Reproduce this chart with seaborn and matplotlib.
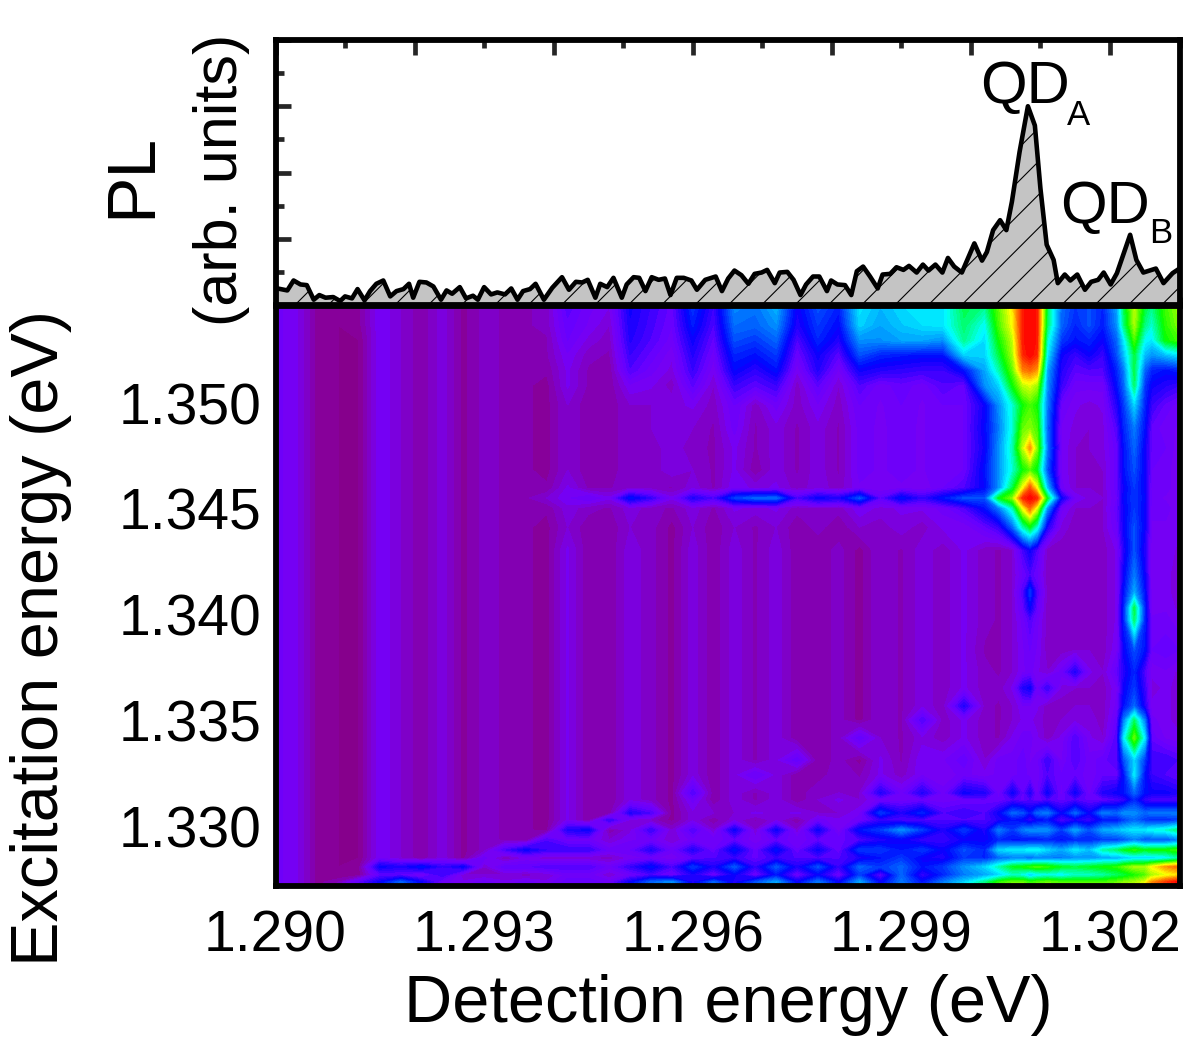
import matplotlib
matplotlib.use("Agg")
import matplotlib.pyplot as plt
from matplotlib.colors import LinearSegmentedColormap
from matplotlib.ticker import MultipleLocator, FormatStrFormatter
import seaborn as sns
import numpy as np

# PL spectrum
pl_energy = [1.28998, 1.29017, 1.29026, 1.29036, 1.29045, 1.29055, 1.29063, 1.29072, 1.29083, 1.29093,
             1.29100, 1.29110, 1.29118, 1.29128, 1.29136, 1.29145, 1.29155, 1.29165, 1.29174, 1.29184,
             1.29192, 1.29198, 1.29207, 1.29217, 1.29227, 1.29238, 1.29246, 1.29254, 1.29265, 1.29274,
             1.29284, 1.29291, 1.29300, 1.29310, 1.29319, 1.29330, 1.29339, 1.29348, 1.29356, 1.29366,
             1.29374, 1.29386, 1.29398, 1.29412, 1.29422, 1.29432, 1.29441, 1.29449, 1.29460, 1.29467,
             1.29477, 1.29486, 1.29498, 1.29505, 1.29515, 1.29523, 1.29532, 1.29541, 1.29551, 1.29560,
             1.29568, 1.29577, 1.29587, 1.29598, 1.29606, 1.29618, 1.29633, 1.29642, 1.29651, 1.29660,
             1.29670, 1.29680, 1.29689, 1.29699, 1.29707, 1.29718, 1.29725, 1.29736, 1.29745, 1.29755,
             1.29763, 1.29773, 1.29782, 1.29793, 1.29799, 1.29808, 1.29819, 1.29828, 1.29836, 1.29845,
             1.29855, 1.29866, 1.29873, 1.29884, 1.29893, 1.29903, 1.29911, 1.29922, 1.29931, 1.29939,
             1.29949, 1.29959, 1.29967, 1.29976, 1.29987, 1.30005, 1.30016, 1.30023, 1.30032, 1.30042,
             1.30051, 1.30059, 1.30070, 1.30082, 1.30092, 1.30100, 1.30109, 1.30119, 1.30125, 1.30135,
             1.30143, 1.30153, 1.30164, 1.30173, 1.30183, 1.30191, 1.30201, 1.30210, 1.30229, 1.30238,
             1.30248, 1.30266, 1.30277, 1.30290, 1.30300]
pl_counts = [.26, .22, .37, .31, .30, .08, .15, .11, .12, .06,
             .13, .10, .24, .07, .21, .32, .37, .13, .21, .24,
             .32, .11, .35, .34, .28, .08, .22, .17, .27, .10,
             .14, .08, .27, .16, .19, .16, .25, .08, .21, .24,
             .32, .08, .26, .42, .23, .35, .34, .38, .11, .32,
             .27, .41, .11, .31, .42, .41, .21, .42, .38, .40,
             .15, .41, .41, .37, .23, .38, .43, .21, .40, .52,
             .45, .32, .47, .49, .53, .33, .49, .50, .38, .15,
             .31, .43, .43, .21, .37, .31, .30, .15, .51, .58,
             .43, .25, .46, .47, .57, .53, .59, .49, .61, .52,
             .61, .49, .71, .58, .49, .93, .67, .80, 1.13, 1.28,
             1.13, 1.56, 2.31, 3.00, 2.71, 1.76, .91, .68, .33, .46,
             .37, .46, .23, .35, .38, .49, .31, .48, 1.06, .68,
             .49, .55, .33, .48, .55]

# PLE map, intensity on a 0-100 scale
detection = [1.2900, 1.2903, 1.2906, 1.2909, 1.2912, 1.2915, 1.2918, 1.2921, 1.2924, 1.2927,
             1.2930, 1.2933, 1.2936, 1.2939, 1.2942, 1.2945, 1.2948, 1.2951, 1.2954, 1.2957,
             1.2960, 1.2963, 1.2966, 1.2969, 1.2972, 1.2975, 1.2978, 1.2981, 1.2984, 1.2987,
             1.2990, 1.2993, 1.2996, 1.2999, 1.3002, 1.3004, 1.3006, 1.30075, 1.30085, 1.30095,
             1.3011, 1.3013, 1.3015, 1.3017, 1.3019, 1.3021, 1.3022, 1.30235, 1.3025, 1.3026,
             1.3028, 1.3030]
excitation = [1.3550, 1.35396, 1.35325, 1.35255, 1.35184, 1.35113, 1.35019, 1.34910, 1.34816, 1.34712,
              1.34627, 1.34580, 1.34533, 1.34443, 1.34335, 1.34217, 1.34137, 1.34061, 1.34005, 1.33863,
              1.33759, 1.33684, 1.33599, 1.33533, 1.33448, 1.33344, 1.33274, 1.33189, 1.33156, 1.33094,
              1.33061, 1.33014, 1.32967, 1.32920, 1.32882, 1.32840, 1.32802, 1.32769, 1.32740]
intensity = [
    [14,12,6,5,6,13,10,7,11,6,9,8,8,9, 18,14,12,24,20,16,30,20,38,36,42,24,33,28,46,42,45,47,46,58, 55,68,80,98,100,98,58,35,30,32,28,40,58,74,60,55,66,72],
    [14,12,6,5,6,13,10,7,11,6,9,8,8,9, 16,13,10,23,19,15,27,18,35,34,38,22,30,25,44,40,43,45,46,56, 48,66,78,98,100,98,56,34,28,32,27,38,55,72,55,50,64,70],
    [14,12,6,5,5,13,10,7,11,6,9,8,7,8, 15,11,9,22,18,14,24,16,32,30,34,18,28,22,38,38,40,40,38,54, 45,62,74,98,100,98,50,30,26,28,24,34,46,66,48,46,62,66],
    [14,12,6,5,5,13,10,7,11,6,9,8,7,8, 13,9,8,20,16,12,22,14,28,26,30,15,24,17,32,28,27,26,26,44, 44,58,72,96,100,96,46,24,20,24,20,32,42,58,42,38,42,46],
    [14,12,6,5,5,13,10,7,11,6,9,8,7,7, 12,8,7,18,14,11,20,12,25,21,26,12,22,13,24,22,21,20,20,26, 40,52,68,88,90,86,40,22,17,18,18,28,36,58,34,28,26,28],
    [14,12,6,5,5,13,10,7,11,6,9,8,7,6, 12,8,7,13,12,9,17,10,20,17,20,9,17,10,18,14,16,14,18,16, 38,44,62,74,76,72,38,20,14,14,14,26,34,56,30,24,22,20],
    [14,12,6,5,5,13,10,7,11,6,9,8,7,6, 10,7,7,10,10,11,12,9,15,9,14,9,13,9,15,13,15,13,15,15, 24,38,50,62,66,62,36,15,12,11,12,22,30,44,28,20,16,14],
    [14,12,6,5,5,13,10,7,11,6,9,8,7,6, 10,7,7,10,10,11,10,8,14,8,11,8,11,8,14,13,14,13,15,15, 25,36,50,68,70,66,34,13,11,10,11,18,28,36,26,16,14,13],
    [14,12,6,5,5,13,10,7,11,6,9,8,7,6, 10,7,7,10,9,11,9,8,12,8,11,8,11,8,14,13,14,13,15,15, 24,38,52,74,86,70,36,13,10,10,11,16,26,34,24,16,15,12],
    [14,12,6,5,5,13,10,7,11,6,9,8,7,6, 10,7,7,10,9,11,10,8,12,7,11,8,11,8,14,13,14,13,15,15, 26,38,50,62,66,60,32,13,10,10,10,16,26,32,24,15,14,12],
    [14,12,6,5,5,13,10,7,11,6,9,8,7,7, 12,8,8,10,9,8,11,8,13,11,12,9,11,9,13,12,13,12,15,18, 25,38,58,78,92,78,42,14,10,10,10,16,24,30,24,14,14,12],
    [14,12,6,5,5,13,10,7,11,6,9,8,8,10, 13,15,12,26,20,12,22,18,30,34,34,18,24,22,32,16,26,20,26,32, 32,60,70,96,100,96,60,24,13,11,10,15,25,30,25,14,13,12],
    [14,12,6,5,5,13,10,7,11,6,9,8,7,7, 11,9,8,11,9,8,11,8,12,11,12,9,10,9,13,11,12,12,14,18, 26,36,52,78,90,76,38,14,10,10,10,16,24,30,24,14,14,12],
    [14,12,6,5,5,13,10,7,11,6,9,8,7,6, 10,7,7,10,9,6,10,7,10,8,10,7,9,7,10,9,11,9,12,12, 16,20,34,52,60,50,22,11,9,9,10,15,24,32,24,13,13,12],
    [14,12,6,5,5,13,10,7,11,6,9,8,7,6, 12,7,7,11,9,6,11,7,11,8,11,7,7,9,6,10,8,11,9,12, 9,8,10,19,24,18,9,9,10,10,9,12,22,32,22,12,13,11],
    [14,12,6,5,5,13,10,7,11,6,9,8,7,6, 12,7,7,11,9,6,11,7,11,8,11,7,7,9,6,10,8,11,9,12, 9,8,10,15,18,15,9,9,10,10,9,12,24,36,24,12,12,11],
    [14,12,6,5,5,13,10,7,11,6,9,8,7,6, 12,7,7,11,9,6,11,7,11,8,11,7,7,9,6,10,8,11,9,12, 9,8,10,18,30,18,9,9,10,10,9,12,26,40,26,12,12,11],
    [14,12,6,5,5,13,10,7,11,6,9,8,7,6, 12,7,7,11,9,6,11,7,11,8,11,7,7,9,6,10,8,11,9,12, 9,8,10,16,24,16,9,9,10,10,9,12,28,58,28,12,13,11],
    [14,12,6,5,5,13,10,7,11,6,9,8,7,6, 12,7,7,11,9,6,11,7,11,8,11,7,7,9,6,10,8,11,9,12, 9,8,10,14,18,14,9,9,10,10,9,12,28,56,28,14,14,12],
    [14,12,6,5,5,13,10,7,11,6,9,8,7,6, 12,7,7,11,9,6,11,7,11,8,11,7,7,9,6,10,8,11,9,12, 8,8,10,13,15,13,9,9,10,10,9,13,24,32,26,15,16,15],
    [14,12,6,5,5,13,10,7,11,6,9,8,7,6, 12,7,7,11,9,6,11,7,11,8,11,7,7,9,6,10,8,11,9,12, 9,8,10,13,14,12,10,14,22,12,10,16,22,28,18,12,13,11],
    [14,12,6,5,5,13,10,7,11,6,9,8,7,6, 12,7,7,11,9,6,11,7,11,8,11,7,7,9,6,10,8,11,9,12, 9,9,12,22,24,14,20,11,10,10,9,13,24,30,20,11,12,11],
    [14,12,6,5,5,13,10,7,11,6,9,8,7,6, 12,7,7,11,9,6,11,7,11,8,11,7,7,9,6,10,8,11,9,22, 9,8,10,13,13,12,9,9,10,10,9,14,26,34,22,12,12,11],
    [14,12,6,5,5,13,10,7,11,6,9,8,7,6, 12,7,7,11,9,6,11,7,11,8,11,7,7,9,6,10,8,18,9,12, 9,8,10,12,12,11,9,10,11,11,9,16,36,56,36,14,12,11],
    [14,12,6,5,5,13,10,7,11,6,9,8,7,6, 12,7,7,11,9,6,11,7,11,8,11,7,7,9,16,10,8,11,9,12, 9,8,12,14,14,12,9,12,18,12,10,18,46,68,46,16,13,12],
    [14,12,6,5,5,13,10,7,11,6,9,8,7,6, 12,7,7,11,9,6,11,7,11,8,11,16,7,9,6,12,8,13,13,16, 10,14,14,16,13,14,20,13,18,14,16,18,32,44,30,20,20,18],
    [14,12,6,5,5,13,10,7,11,6,9,8,7,6, 12,7,7,11,9,6,11,7,11,15,11,7,7,10,8,12,9,13,12,14, 12,14,14,16,14,14,18,15,16,14,16,16,26,46,26,20,18,16],
    [14,12,6,5,5,13,10,7,11,6,9,8,7,6, 12,7,7,11,9,6,18,7,11,8,11,7,10,10,10,22,14,22,14,24, 22,14,24,16,22,14,24,14,24,14,22,24,26,34,26,24,24,22],
    [14,12,6,5,5,13,10,7,11,6,9,8,7,6, 12,7,7,11,9,6,14,7,11,8,11,7,10,12,10,14,14,15,14,15, 16,15,18,16,18,15,18,16,18,16,16,18,20,28,20,18,18,18],
    [14,12,6,5,5,13,10,7,11,6,9,8,7,6, 12,7,7,22,18,6,11,10,10,12,11,12,10,10,13, 30,22,28,18,20,18,24,34,32,26,34,36,24,34,24,36,34,38,38,34,36,36,36],
    [14,12,6,5,5,13,10,7,11,6,9,8,7,6, 12,7,20,11,9,6,11,7,11,8,11,7,14,12,14, 20,18,18,18,18,18,22,26,24,20,24,26,18,22,20,26,26,30,34,30,28,28,30],
    [14,12,6,5,5,13,10,7,11,6,9,8,7,6, 22,24,7,11,20,10,18,10,24,10,24,10,24,12,26, 30,38,30,22,30,22,36,30,36,38,38,38,30,40,32,40,42,44,46,46,48,50,56],
    [14,12,6,5,5,13,10,7,11,6,9,8,7,18, 14,14,10,13,14,10,14,14,16,12,16,14,16,16,18, 22,24,20,20,24,24,28,26,26,26,26,28,26,28,28,30,30,32,36,32,32,32,36],
    [14,12,6,5,5,13,10,7,11,6,9,18,24,20, 20,20,14,15,22,14,22,15,26,15,26,15,24,15,30, 30,26,30,24,32,28,44,46,46,48,48,44,40,46,42,52,56,60,64,60,62,62,66],
    [14,12,6,5,5,13,10,7,11,6,14,8,12,10, 10,10,9,12,14,12,16,18,20,16,20,18,18,18,22, 26,30,24,22,30,28,34,36,36,34,36,36,36,38,38,40,40,42,44,44,44,46,52],
    [14,12,6,5,6,24,22,26,20,24,10,16,16,18, 18,18,14,20,26,18,30,22,33,20,33,22,32,20,34, 30,34,26,30,38,44,52,60,62,64,66,64,60,58,60,62,64,68,72,72,78,86,90],
    [14,12,6,5,6,16,16,12,20,10,10,10,9,10, 14,14,10,14,18,14,22,14,24,14,26,14,24,14,30, 16,34,20,28,36,40,44,50,48,42,46,48,46,50,50,52,56,58,62,66,72,76,80],
    [14,12,6,8,16,24,34,24,14,12,14,12,14,12, 16,16,14,24,34,38,22,34,22,32,40,24,36,24,40, 24,36,26,36,44,54,64,68,68,64,66,68,66,66,66,66,68,70,72,76,86,94,100],
    [14,12,6,10,18,26,38,24,16,14,16,14,16,14, 18,18,16,26,36,40,24,36,24,34,42,26,38,26,42, 26,38,28,38,48,58,68,72,72,68,70,72,70,70,70,70,72,74,76,82,90,96,100],
]

x_ticks = [1.290, 1.293, 1.296, 1.299, 1.302]
y_ticks = [1.330, 1.335, 1.340, 1.345, 1.350]

sns.set_theme(style="ticks")
plt.rcParams['font.family'] = ['Liberation Sans', 'DejaVu Sans']
plt.rcParams['hatch.linewidth'] = 0.8
plt.rcParams['ytick.alignment'] = 'center'

ple_cmap = LinearSegmentedColormap.from_list('ple', [
    (0.00, (0.52, 0.00, 0.42)),
    (0.06, (0.53, 0.00, 0.62)),
    (0.12, (0.47, 0.00, 0.95)),
    (0.16, (0.40, 0.00, 1.00)),
    (0.25, (0.00, 0.00, 1.00)),
    (0.37, (0.00, 0.51, 1.00)),
    (0.48, (0.00, 1.00, 1.00)),
    (0.62, (0.00, 1.00, 0.00)),
    (0.78, (1.00, 1.00, 0.00)),
    (0.88, (1.00, 0.51, 0.00)),
    (1.00, (1.00, 0.00, 0.00)),
])

W, H = 1188.0, 1045.0
fig = plt.figure(figsize=(11.88, 10.45), dpi=100)
ax_pl = fig.add_axes([275.5/W, 1-305/H, 904/W, 265/H])
ax_map = fig.add_axes([275.5/W, 1-885.5/H, 904/W, 579.5/H])

# top panel
ax_pl.fill_between(pl_energy, 0, pl_counts, facecolor='#C4C4C4', edgecolor='black', hatch='/', linewidth=0)
sns.lineplot(x=pl_energy, y=pl_counts, ax=ax_pl, color='black', linewidth=3.3, estimator=None, sort=False)
ax_pl.set_xlim(1.290, 1.303)
ax_pl.set_ylim(0, 4)
ax_pl.xaxis.set_major_locator(MultipleLocator(0.002))
ax_pl.xaxis.set_minor_locator(MultipleLocator(0.001))
ax_pl.yaxis.set_major_locator(MultipleLocator(1))
ax_pl.yaxis.set_minor_locator(MultipleLocator(0.5))
ax_pl.tick_params(axis='x', which='both', direction='in', top=True, bottom=True, labelbottom=False)
ax_pl.tick_params(axis='y', which='both', direction='in', left=True, right=False, labelleft=False)

# bottom panel
ax_map.contourf(detection, excitation, np.array(intensity), levels=np.linspace(0, 100, 61),
                cmap=ple_cmap, vmin=0, vmax=100)
ax_map.set_xlim(1.290, 1.303)
ax_map.set_ylim(1.32752, 1.35486)
ax_map.set_xticks(x_ticks)
ax_map.set_yticks(y_ticks)
ax_map.xaxis.set_minor_locator(MultipleLocator(0.0015))
ax_map.yaxis.set_minor_locator(MultipleLocator(0.0025))
ax_map.xaxis.set_major_formatter(FormatStrFormatter('%.3f'))
ax_map.yaxis.set_major_formatter(FormatStrFormatter('%.3f'))
ax_map.tick_params(axis='both', which='both', direction='in', top=False, right=False, colors='black')

for ax in (ax_pl, ax_map):
    for s in ax.spines.values():
        s.set_visible(True)
        s.set_linewidth(4.2)
        s.set_color('black')
    ax.tick_params(which='major', length=11, width=3.4)
    ax.tick_params(which='minor', length=6, width=3.4)
    for t in ax.xaxis.get_ticklines(minor=True) + ax.yaxis.get_ticklines(minor=True):
        t.set_solid_capstyle('round')
    for t in ax.xaxis.get_ticklines() + ax.yaxis.get_ticklines():
        t.set_solid_capstyle('round')
ax_map.tick_params(axis='x', which='major', labelsize=41, pad=17)
ax_map.tick_params(axis='y', which='major', labelsize=41, pad=10)

# axis titles and peak labels
fig.text(728/W, 1-1005/H, 'Detection energy (eV)', fontsize=48, ha='center', va='center', color='black')
fig.text(41/W, 1-638/H, 'Excitation energy (eV)', fontsize=48, rotation=90, ha='center', va='center', color='black')
fig.text(132/W, 1-175/H, 'PL', fontsize=50, rotation=90, ha='center', va='center', color='black')
fig.text(222/W, 1-180/H, '(arb. units)', fontsize=44, rotation=90, ha='center', va='center', color='black')
fig.text(980/W, 1-103/H, 'QD', fontsize=43, ha='left', va='baseline', color='black')
fig.text(1067/W, 1-125/H, 'A', fontsize=25, ha='left', va='baseline', color='black')
fig.text(1060/W, 1-223/H, 'QD', fontsize=43, ha='left', va='baseline', color='black')
fig.text(1149/W, 1-243/H, 'B', fontsize=25, ha='left', va='baseline', color='black')

plt.savefig('out.png', dpi=100)
